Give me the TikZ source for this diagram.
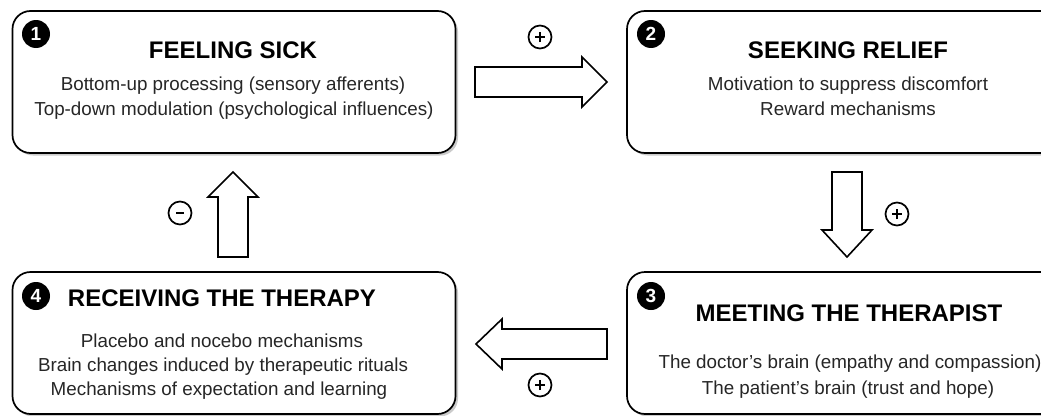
\documentclass[tikz,border=0pt]{standalone}
\usepackage{fontspec}
\setmainfont{Liberation Sans}
\usetikzlibrary{shadows}
\begin{document}
\begin{tikzpicture}[x=1pt,y=-1pt,
  box/.style={draw=black, line width=1.7pt, fill=white, rounded corners=18pt,
    minimum width=443pt, minimum height=142pt, inner sep=0pt,
    drop shadow={shadow xshift=2.5pt, shadow yshift=-2.5pt, fill=black!40}},
  num/.style={circle, fill=black, text=white, inner sep=0pt, minimum size=28pt,
    font=\fontsize{19}{19}\selectfont\bfseries},
  ttl/.style={font=\fontsize{24}{28}\selectfont\bfseries, anchor=base, inner sep=0pt},
  bodytxt/.style={font=\fontsize{18.8}{22}\selectfont, anchor=base, inner sep=0pt, text=black!85},
  sign/.style={circle, draw=black, line width=1.7pt, minimum size=23pt, inner sep=0pt},
  barrow/.style={draw=black, line width=1.6pt, fill=white, line join=miter}]
\useasboundingbox (0,0) rectangle (1041,415);
\clip (0,0) rectangle (1041,415);
\fill[white] (0,0) rectangle (1041,415);

% boxes
\node[box] (b1) at (234,82) {};
\node[box] (b2) at (848.5,82) {};
\node[box] (b4) at (234,343) {};
\node[box] (b3) at (848.5,343) {};

% numbers
\node[num] (n1) at (36,34) {1};
\node[num] (n2) at (651,34) {2};
\node[num] (n3) at (651,296) {3};
\node[num] (n4) at (36,296) {4};

% box 1
\node[ttl] (t1) at (233,58.5) {FEELING SICK};
\node[bodytxt] (l11) at (233,90) {Bottom-up processing (sensory afferents)};
\node[bodytxt] (l12) at (234,115) {Top-down modulation (psychological influences)};
% box 2
\node[ttl] (t2) at (848,58.5) {SEEKING RELIEF};
\node[bodytxt] (l21) at (848,90) {Motivation to suppress discomfort};
\node[bodytxt] (l22) at (848,115) {Reward mechanisms};
% box 3
\node[ttl] (t3) at (849,321) {MEETING THE THERAPIST};
\node[bodytxt] (l31) at (850,368) {The doctor’s brain (empathy and compassion)};
\node[bodytxt] (l32) at (848,394) {The patient’s brain (trust and hope)};
% box 4
\node[ttl] (t4) at (222,306) {RECEIVING THE THERAPY};
\node[bodytxt] (l41) at (222,347) {Placebo and nocebo mechanisms};
\node[bodytxt] (l42) at (223,371) {Brain changes induced by therapeutic rituals};
\node[bodytxt] (l43) at (219,395) {Mechanisms of expectation and learning};

% block arrows
\draw[barrow] (475,67) -- (582,67) -- (582,57) -- (607,82) -- (582,107) -- (582,97) -- (475,97) -- cycle;
\draw[barrow] (832,172) -- (832,230) -- (822,230) -- (847,257) -- (872,230) -- (862,230) -- (862,172) -- cycle;
\draw[barrow] (607,329) -- (502,329) -- (502,319) -- (476,344) -- (502,369) -- (502,359) -- (607,359) -- cycle;
\draw[barrow] (218,257) -- (218,197) -- (208,197) -- (233,172) -- (258,197) -- (248,197) -- (248,257) -- cycle;

% signs
\node[sign] (s12) at (540,37) {};
\draw[line width=1.8pt] ([xshift=-5pt]s12.center) -- ([xshift=5pt]s12.center)
  ([yshift=-5pt]s12.center) -- ([yshift=5pt]s12.center);
\node[sign] (s23) at (897,214) {};
\draw[line width=1.8pt] ([xshift=-5pt]s23.center) -- ([xshift=5pt]s23.center)
  ([yshift=-5pt]s23.center) -- ([yshift=5pt]s23.center);
\node[sign] (s34) at (540,385) {};
\draw[line width=1.8pt] ([xshift=-5pt]s34.center) -- ([xshift=5pt]s34.center)
  ([yshift=-5pt]s34.center) -- ([yshift=5pt]s34.center);
\node[sign] (s41) at (180,213) {};
\draw[line width=2.2pt] ([xshift=-4pt]s41.center) -- ([xshift=4pt]s41.center);
\end{tikzpicture}
\end{document}
